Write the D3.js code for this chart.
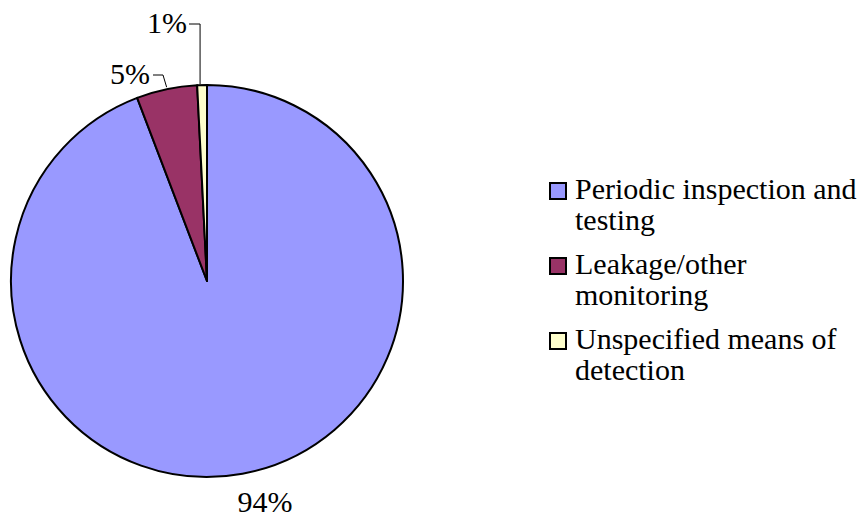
<!DOCTYPE html>
<html>
<head>
<meta charset="utf-8">
<script src="https://cdn.jsdelivr.net/npm/d3@7"></script>
<style>
  html, body { margin: 0; padding: 0; background: #fff; }
  svg { display: block; }
</style>
</head>
<body>
<svg id="chart" width="867" height="519"></svg>
<script>
const categories = ["Periodic inspection and testing", "Leakage/other monitoring", "Unspecified means of detection"];
const legendLines = [["Periodic inspection and", "testing"], ["Leakage/other", "monitoring"], ["Unspecified means of", "detection"]];
const values = [94.2, 5.0, 0.8];
const colors = ["#9999FF", "#993366", "#FFFFCC"];

const svg = d3.select("#chart");
const cx = 207, cy = 281, r = 196;
const fontSize = 30;

const total = d3.sum(values);
const pie = d3.pie().sort(null).value(d => d)(values);
const arc = d3.arc().innerRadius(0).outerRadius(r);

const g = svg.append("g").attr("transform", `translate(${cx},${cy})`);
g.selectAll("path").data(pie).enter().append("path")
  .attr("d", arc)
  .attr("fill", (d, i) => colors[i])
  .attr("stroke", "#000")
  .attr("stroke-width", 2)
  .attr("stroke-linejoin", "round");

const fmt = v => Math.round(v / total * 100) + "%";

// 94% label below the pie
g.append("text").attr("x", 265 - cx).attr("y", 512 - cy)
  .attr("text-anchor", "middle")
  .attr("font-size", fontSize).attr("font-family", "Liberation Serif")
  .text(fmt(values[0]));

// 5% label with leader
const p5 = d3.arc().innerRadius(r).outerRadius(r).centroid(pie[1]);
g.append("text").attr("x", 150 - cx).attr("y", 84 - cy)
  .attr("text-anchor", "end")
  .attr("font-size", fontSize).attr("font-family", "Liberation Serif")
  .text(fmt(values[1]));
g.append("polyline")
  .attr("points", `${153 - cx},${75 - cy} ${163 - cx},${75 - cy} ${p5[0]},${p5[1] - 2}`)
  .attr("fill", "none").attr("stroke", "#000").attr("stroke-width", 1);

// 1% label with leader
const p1 = d3.arc().innerRadius(r).outerRadius(r).centroid(pie[2]);
g.append("text").attr("x", 187 - cx).attr("y", 33 - cy)
  .attr("text-anchor", "end")
  .attr("font-size", fontSize).attr("font-family", "Liberation Serif")
  .text(fmt(values[2]));
g.append("polyline")
  .attr("points", `${189 - cx},${24 - cy} ${p1[0] - 2},${24 - cy} ${p1[0] - 2},${p1[1] - 1}`)
  .attr("fill", "none").attr("stroke", "#000").attr("stroke-width", 1);

// Legend
const lg = svg.append("g").attr("transform", "translate(550,0)");
const items = lg.selectAll("g.item").data(categories).enter().append("g")
  .attr("class", "item")
  .attr("transform", (d, i) => `translate(0,${199 + i * 75})`);
items.append("rect")
  .attr("x", 0).attr("y", -16).attr("width", 16).attr("height", 16)
  .attr("fill", (d, i) => colors[i])
  .attr("stroke", "#000").attr("stroke-width", 2);
items.each(function(d, i) {
  const t = d3.select(this).append("text")
    .attr("x", 25).attr("y", 0)
    .attr("font-size", fontSize).attr("font-family", "Liberation Serif");
  legendLines[i].forEach((line, j) => {
    t.append("tspan").attr("x", 25).attr("dy", j === 0 ? 0 : 31).text(line);
  });
});
</script>
</body>
</html>
